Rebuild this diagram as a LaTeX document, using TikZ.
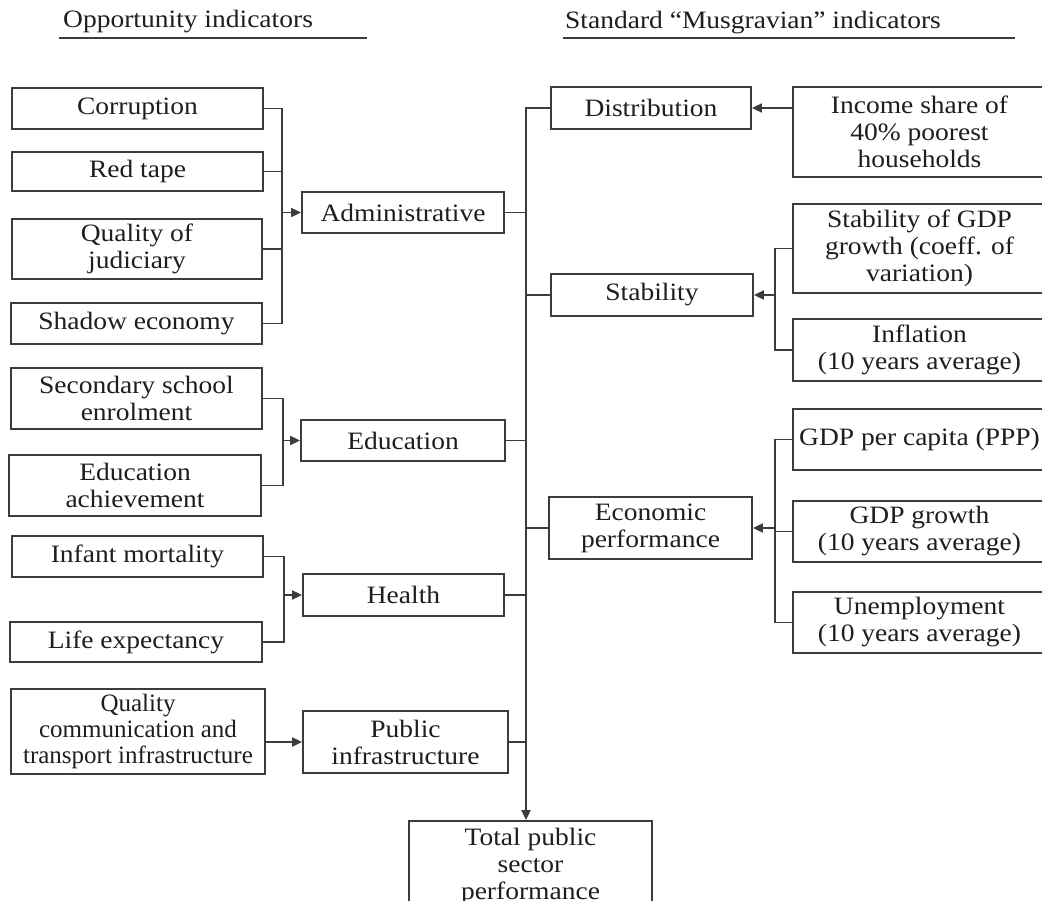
\documentclass[tikz,border=0pt]{standalone}
\usepackage{fontspec}
\setmainfont{Liberation Serif}[FakeStretch=1.1]
\newfontfamily\plainserif{Liberation Serif}
\usetikzlibrary{arrows.meta}
\definecolor{linec}{HTML}{3C3C3C}
\definecolor{textc}{HTML}{1E1E1E}
\tikzset{
  box/.style={draw=linec, line width=1.8pt, rectangle, inner sep=0pt, align=center,
    text=textc, font=\fontsize{25}{27}\selectfont},
  con/.style={draw=linec, line width=1.8pt},
  arr/.style={draw=linec, line width=1.8pt, -{Triangle[length=10pt,width=9pt]}},
  head/.style={anchor=base west, inner sep=0pt, text=textc, font=\fontsize{25}{27}\selectfont},
}
\begin{document}
\begin{tikzpicture}[x=1pt, y=-1pt]
\useasboundingbox (0,0) rectangle (1042,901);
\clip (0,0) rectangle (1042,901);
\fill[white] (0,0) rectangle (1042,901);

% headers
\node[head] (hl) at (63,28) {Opportunity indicators};
\draw[con] (59,38) -- (367,38);
\node[head] (hr) at (565,29) {Standard “Musgravian” indicators};
\draw[con] (563,38) -- (1015,38);

% left inputs
\node[box, minimum width=251pt, minimum height=41pt] (corr) at (137.5,108.5) {Corruption};
\node[box, minimum width=251pt, minimum height=39pt] (red) at (137.5,171.5) {Red tape};
\node[box, minimum width=250pt, minimum height=60pt] (qual) at (137,249) {Quality of\\judiciary};
\node[box, minimum width=251pt, minimum height=41pt] (shadow) at (136.5,323.5) {Shadow economy};
\node[box, minimum width=251pt, minimum height=61pt] (sec) at (136.5,398.5) {Secondary school\\enrolment};
\node[box, minimum width=252pt, minimum height=61pt] (ach) at (135,485.5) {Education\\achievement};
\node[box, minimum width=251pt, minimum height=41pt] (infant) at (137.5,556.5) {Infant mortality};
\node[box, minimum width=252pt, minimum height=40pt] (life) at (136,642) {Life expectancy};
\node[box, minimum width=254pt, minimum height=85pt, font=\plainserif\fontsize{25}{26}\selectfont] (qcomm) at (138,731.5) {Quality\\communication and\\transport infrastructure};

% left categories
\node[box, minimum width=202pt, minimum height=41pt] (admin) at (403,212.5) {Administrative};
\node[box, minimum width=204pt, minimum height=41pt] (edu) at (403,440.5) {Education};
\node[box, minimum width=201pt, minimum height=42pt] (health) at (403.5,595) {Health};
\node[box, minimum width=205pt, minimum height=62pt] (pub) at (405.5,742) {Public\\infrastructure};

% total
\node[box, minimum width=243pt, minimum height=90pt] (total) at (530.5,866) {Total public\\sector\\performance};

% right categories
\node[box, minimum width=200pt, minimum height=42pt] (dist) at (651,108) {Distribution};
\node[box, minimum width=202pt, minimum height=42pt] (stab) at (652,295) {Stability};
\node[box, minimum width=203pt, minimum height=62pt] (econ) at (650.5,528) {Economic\\performance};

% right inputs
\node[box, minimum width=253pt, minimum height=90pt] (income) at (919.5,132) {Income share of\\40\% poorest\\households};
\node[box, minimum width=253pt, minimum height=89pt] (gdpstab) at (919.5,248.5) {Stability of GDP\\growth (coeff. of\\variation)};
\node[box, minimum width=253pt, minimum height=62pt] (infl) at (919.5,350) {Inflation\\(10 years average)};
\node[box, minimum width=253pt, minimum height=61pt] (gdppc) at (919.5,439.5) {GDP per capita (PPP)};
\node[box, minimum width=253pt, minimum height=61pt] (gdpg) at (919.5,531.5) {GDP growth\\(10 years average)};
\node[box, minimum width=253pt, minimum height=61pt] (unemp) at (919.5,622.5) {Unemployment\\(10 years average)};

% junctions
\coordinate (adminJ) at (282,212.5);
\coordinate (eduJ) at (283,440.5);
\coordinate (healthJ) at (284,595);
\coordinate (mainX) at (526,108);
\coordinate (stabJ) at (775,295);
\coordinate (econJ) at (775,528);

% administrative bracket
\draw[con] (corr.east) -| (adminJ);
\draw[con] (shadow.east) -| (adminJ);
\draw[con] (red.east) -- (red.east -| adminJ);
\draw[con] (qual.east) -- (qual.east -| adminJ);
\draw[arr] (adminJ) -- (admin.west);

% education bracket
\draw[con] (sec.east) -| (eduJ);
\draw[con] (ach.east) -| (eduJ);
\draw[arr] (eduJ) -- (edu.west);

% health bracket
\draw[con] (infant.east) -| (healthJ);
\draw[con] (life.east) -| (healthJ);
\draw[arr] (healthJ) -- (health.west);

% infrastructure
\draw[arr] (qcomm.east |- pub.west) -- (pub.west);

% main spine
\draw[arr] (dist.west) -| (total.north -| mainX);
\draw[con] (admin.east) -- (admin.east -| mainX);
\draw[con] (edu.east) -- (edu.east -| mainX);
\draw[con] (health.east) -- (health.east -| mainX);
\draw[con] (pub.east) -- (pub.east -| mainX);
\draw[con] (stab.west) -- (stab.west -| mainX);
\draw[con] (econ.west) -- (econ.west -| mainX);

% right side
\draw[arr] (income.west |- dist.east) -- (dist.east);
\draw[con] (gdpstab.west) -| (stabJ);
\draw[con] (infl.west) -| (stabJ);
\draw[arr] (stabJ) -- (stab.east);
\draw[con] (gdppc.west) -| (econJ);
\draw[con] (unemp.west) -| (econJ);
\draw[con] (gdpg.west) -- (gdpg.west -| econJ);
\draw[arr] (econJ) -- (econ.east);
\end{tikzpicture}
\end{document}
